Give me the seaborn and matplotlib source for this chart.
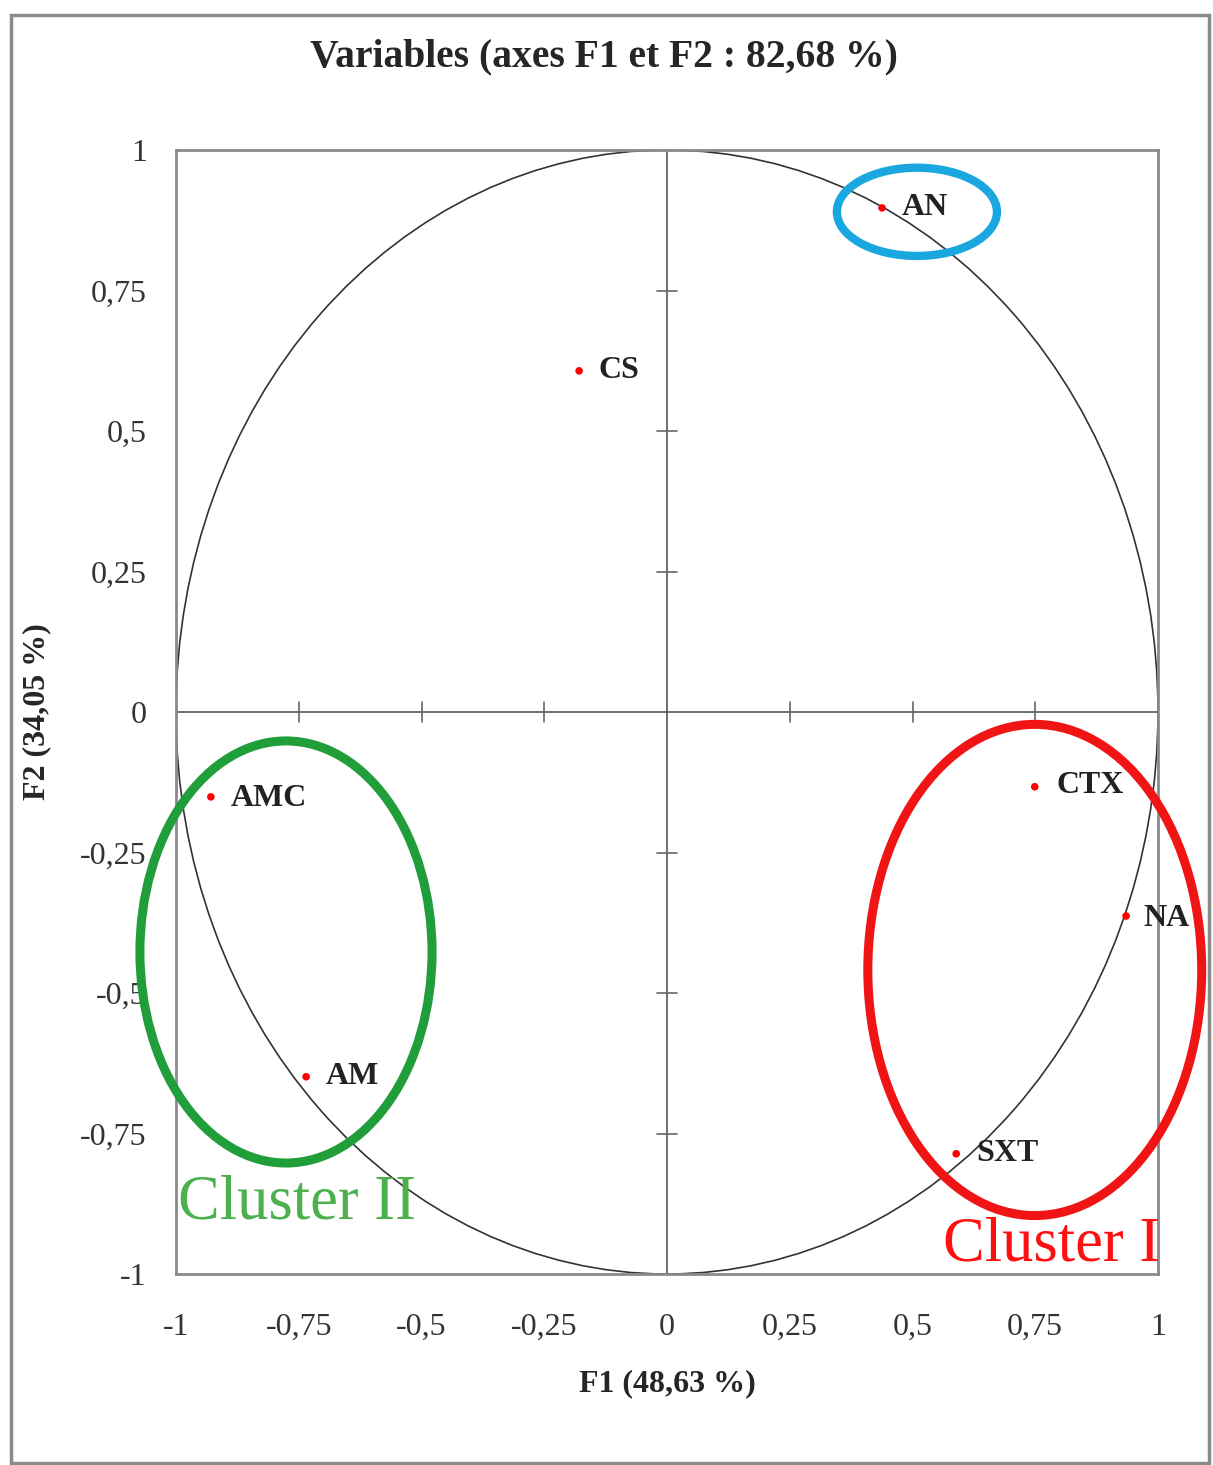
import matplotlib
matplotlib.use("Agg")
import matplotlib.pyplot as plt
from matplotlib.patches import Ellipse, Circle, Rectangle
import numpy as np
import pandas as pd
import seaborn as sns

# Variable coordinates on the first two factorial axes
variables = ["AN", "CS", "AMC", "AM", "CTX", "NA", "SXT"]
f1_coords = [0.438, -0.179, -0.929, -0.735, 0.749, 0.935, 0.589]
f2_coords = [0.897, 0.607, -0.151, -0.649, -0.133, -0.363, -0.786]

tick_values = [-1, -0.75, -0.5, -0.25, 0, 0.25, 0.5, 0.75, 1]
tick_labels = ["-1", "-0,75", "-0,5", "-0,25", "0", "0,25", "0,5", "0,75", "1"]

# Cluster outlines: name, center (F1, F2), width, height, colour
cluster_names = ["AN group", "Cluster II", "Cluster I"]
cluster_centers = [(0.509, 0.890), (-0.776, -0.427), (0.749, -0.459)]
cluster_widths = [0.326, 0.595, 0.680]
cluster_heights = [0.157, 0.751, 0.874]
cluster_colors = ["#1aa7e0", "#1f9e3a", "#f01414"]

df = pd.DataFrame({"F1": f1_coords, "F2": f2_coords, "var": variables})

sns.set_style("white")
plt.rcParams["font.family"] = ["Liberation Serif", "DejaVu Serif"]

fig = plt.figure(figsize=(12.13, 14.65), dpi=100)
ax = fig.add_axes([176 / 1213, 1 - 1274 / 1465, (1158 - 176) / 1213, (1274 - 150) / 1465])

# Outer chart frame
fig.patches.append(Rectangle((11 / 1213, 1 - 1463 / 1465), 1198 / 1213, 1448 / 1465,
                             transform=fig.transFigure, fill=False,
                             edgecolor="#8a8a8a", lw=2.5, zorder=0))

# Correlation circle
ax.add_patch(Circle((0, 0), 1, fill=False, edgecolor="#333333", lw=1.2, zorder=2))

# Central axes with small cross ticks
ax.axhline(0, color="#555555", lw=1.2, zorder=1)
ax.axvline(0, color="#555555", lw=1.2, zorder=1)
inner = [t for t in tick_values if t not in (-1, 0, 1)]
for t in inner:
    ax.plot([t, t], [-0.018, 0.018], color="#666666", lw=1.2, zorder=1)
    ax.plot([-0.02, 0.02], [t, t], color="#666666", lw=1.2, zorder=1)

sns.scatterplot(data=df, x="F1", y="F2", color="#ff0000", s=30, edgecolor="none",
                ax=ax, zorder=4, legend=False)

label_offsets = {"AN": (0.04, 0.0), "CS": (0.04, 0.0), "AMC": (0.04, -0.003),
                 "AM": (0.04, 0.0), "CTX": (0.045, 0.003), "NA": (0.035, -0.005),
                 "SXT": (0.04, 0.0)}
for name, x, y in zip(variables, f1_coords, f2_coords):
    dx, dy = label_offsets[name]
    ax.text(x + dx, y + dy, name, fontsize=23, fontweight="bold", color="#222222",
            ha="left", va="center", zorder=5, clip_on=False)

for name, c, w, h, col in zip(cluster_names, cluster_centers, cluster_widths,
                              cluster_heights, cluster_colors):
    e = Ellipse(c, w, h, fill=False, edgecolor=col, lw=6 if name == "AN group" else 6.5,
                zorder=3, clip_on=False)
    ax.add_patch(e)

ax.text(-0.995, -0.875, "Cluster II", fontsize=45, color="#4cb04c", ha="left",
        va="center", zorder=5)
ax.text(1.005, -0.95, "Cluster I", fontsize=45, color="#ff1010", ha="right",
        va="center", zorder=5, clip_on=False)

ax.set_xlim(-1, 1)
ax.set_ylim(-1, 1)
ax.set_xticks(tick_values)
ax.set_xticklabels(tick_labels)
ax.set_yticks(tick_values)
ax.set_yticklabels(tick_labels)
ax.tick_params(axis="both", length=0, labelsize=23, colors="#333333")
ax.tick_params(axis="x", pad=28)
ax.tick_params(axis="y", pad=21)
for s in ax.spines.values():
    s.set_edgecolor("#8a8a8a")
    s.set_linewidth(2)

ax.set_xlabel("F1 (48,63 %)", fontsize=23, fontweight="bold", labelpad=20)
ax.set_ylabel("F2 (34,05 %)", fontsize=23, fontweight="bold")
ax.yaxis.set_label_coords(-125 / 982, 0.5)

fig.text(604 / 1213, 1 - 57 / 1465, "Variables (axes F1 et F2 : 82,68 %)",
         fontsize=28.5, fontweight="bold", ha="center", va="center")

fig.savefig("out.png", dpi=100, facecolor="white")
